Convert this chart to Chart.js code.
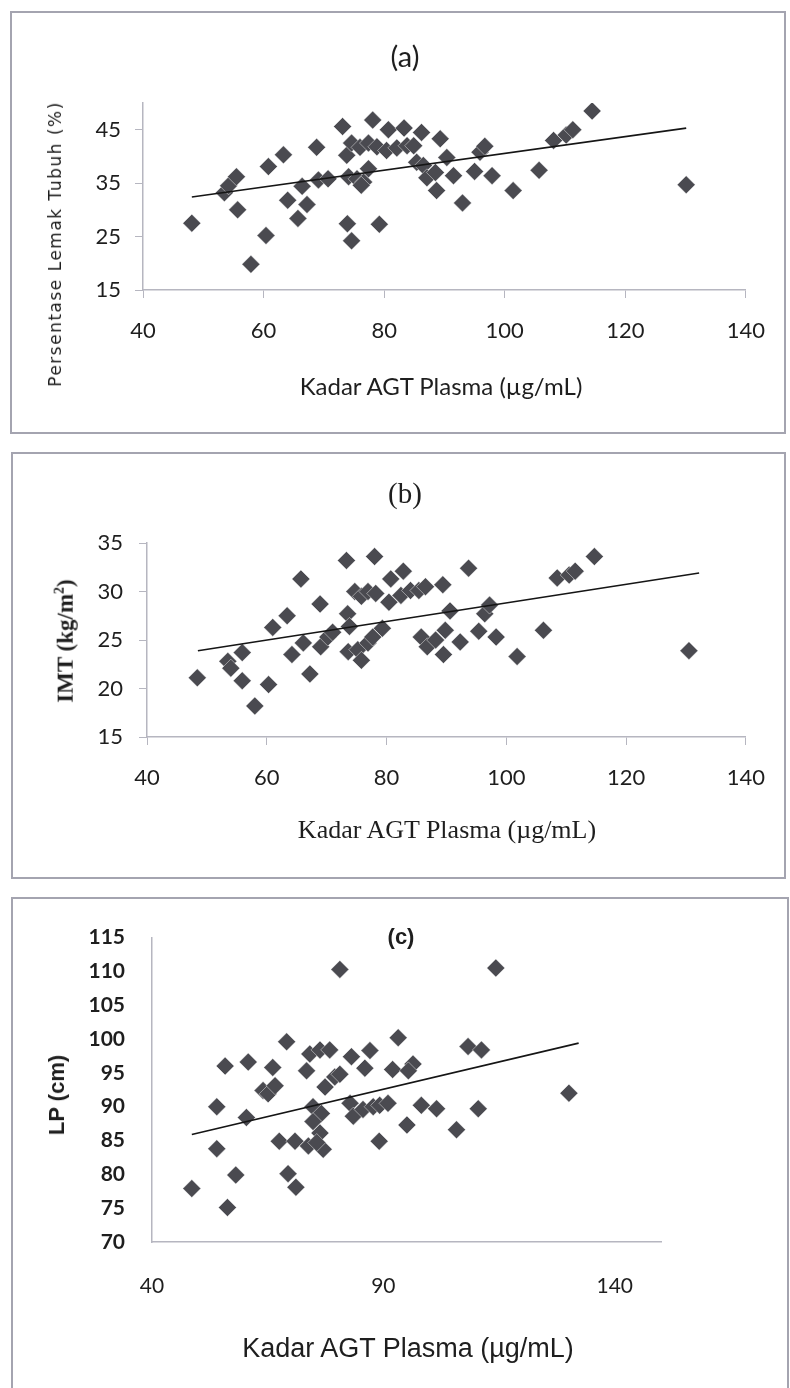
<!DOCTYPE html>
<html>
<head>
<meta charset="utf-8">
<script src="https://cdn.jsdelivr.net/npm/chart.js@4.4.0/dist/chart.umd.min.js"></script>
<style>
  body { margin: 0; width: 790px; height: 1388px; background: #fff; position: relative; overflow: hidden; }
  .box { position: absolute; border: 2px solid #a4a4b0; box-sizing: border-box; }
  canvas { position: absolute; }
  .lbl { position: absolute; white-space: nowrap; transform: translate(-50%, -50%); color: #1e1e1e; }
  .rot { transform: translate(-50%, -50%) rotate(-90deg); }
</style>
</head>
<body>

<div class="box" style="left:10px;top:11px;width:776px;height:423px"></div>
<div class="box" style="left:11px;top:452px;width:775px;height:427px"></div>
<div class="box" style="left:11px;top:897px;width:778px;height:530px"></div>

<canvas id="chartA" style="left:11px;top:12px"></canvas>
<canvas id="chartB" style="left:12px;top:453px"></canvas>
<canvas id="chartC" style="left:12px;top:898px"></canvas>

<div class="lbl" style="left:405px;top:55px;font:29px Lato">(a)</div>
<div class="lbl rot" style="left:55px;top:244px;font:17px 'DejaVu Sans';letter-spacing:1.5px">Persentase Lemak Tubuh (%)</div>
<div class="lbl" style="left:441px;top:385px;font:24px Lato">Kadar AGT Plasma (µg/mL)</div>

<div class="lbl" style="left:405px;top:493px;font:29px 'Liberation Serif'">(b)</div>
<div class="lbl rot" style="left:65px;top:641px;font:bold 23px 'Liberation Serif'">IMT (kg/m<sup style="font-size:14px">2</sup>)</div>
<div class="lbl" style="left:447px;top:830px;font:26px 'Liberation Serif'">Kadar AGT Plasma (µg/mL)</div>

<div class="lbl" style="left:401px;top:937px;font:bold 22px 'Liberation Sans'">(c)</div>
<div class="lbl rot" style="left:57px;top:1095px;font:bold 22px 'Liberation Sans'">LP (cm)</div>
<div class="lbl" style="left:408px;top:1348px;font:27px 'Liberation Sans'">Kadar AGT Plasma (µg/mL)</div>

<script>
// (a) Persentase lemak tubuh vs kadar AGT
const aX = [48.1, 53.5, 54.2, 55.5, 55.7, 57.9, 60.4, 60.8, 63.3, 64.0, 65.7, 66.4, 67.2, 68.8, 69.1, 70.7,
            73.1, 73.8, 73.9, 74.6, 74.6, 76.0, 77.4, 78.8, 74.1, 75.5, 76.6, 77.4, 76.2, 78.1, 79.2, 80.7,
            80.4, 82.1, 83.3, 83.8, 84.9, 86.2, 85.4, 86.5, 87.1, 88.5, 88.7, 89.3, 90.4, 91.5, 93.0, 95.0,
            95.9, 96.7, 97.9, 101.4, 105.7, 108.1, 110.2, 111.3, 114.5, 130.1];
const aY = [27.5, 33.2, 34.5, 36.2, 30.0, 19.8, 25.2, 38.1, 40.3, 31.8, 28.4, 34.4, 31.0, 41.7, 35.6, 35.8,
            45.6, 40.2, 27.4, 24.2, 42.5, 41.7, 42.5, 41.8, 36.2, 35.8, 35.2, 37.7, 34.6, 46.8, 27.3, 45.0,
            41.1, 41.6, 45.3, 42.0, 42.0, 44.5, 38.9, 38.3, 36.0, 37.0, 33.6, 43.3, 39.8, 36.4, 31.3, 37.2,
            40.8, 41.9, 36.4, 33.6, 37.4, 43.0, 44.0, 45.0, 48.5, 34.7];
const aTrendX = [48.1, 130.1];
const aTrendY = [32.4, 45.3];
const aTicksX = [40, 60, 80, 100, 120, 140];
const aTicksY = [15, 25, 35, 45];

// (b) IMT vs kadar AGT
const bX = [48.4, 53.5, 54.0, 55.9, 55.9, 58.0, 60.3, 61.0, 63.4, 64.2, 65.7, 66.1, 67.2, 68.9, 69.0, 70.2,
            71.0, 73.3, 73.5, 73.8, 73.6, 75.2, 75.8, 76.9, 77.7, 74.7, 75.8, 76.9, 78.2, 78.0, 79.3, 80.7,
            80.4, 82.8, 82.4, 84.0, 85.4, 86.5, 85.8, 86.8, 88.2, 89.5, 89.8, 89.4, 90.6, 92.3, 93.7, 95.4,
            96.4, 97.2, 98.3, 101.8, 106.2, 108.5, 110.5, 111.5, 114.7, 130.5];
const bY = [21.1, 22.8, 22.1, 23.7, 20.8, 18.2, 20.4, 26.3, 27.5, 23.5, 31.3, 24.7, 21.5, 28.7, 24.3, 25.3,
            25.8, 33.2, 27.7, 26.4, 23.8, 24.0, 22.9, 24.7, 25.3, 30.0, 29.5, 30.0, 29.8, 33.6, 26.2, 31.3,
            28.9, 32.1, 29.6, 30.1, 30.1, 30.5, 25.3, 24.3, 25.0, 23.5, 26.0, 30.7, 28.0, 24.8, 32.4, 25.9,
            27.7, 28.6, 25.3, 23.3, 26.0, 31.4, 31.7, 32.1, 33.6, 23.9];
const bTrendX = [48.5, 132.2];
const bTrendY = [23.9, 31.9];
const bTicksX = [40, 60, 80, 100, 120, 140];
const bTicksY = [15, 20, 25, 30, 35];

// (c) LP vs kadar AGT
const cX = [48.6, 54.0, 55.8, 54.0, 56.3, 58.1, 60.8, 60.4, 66.1, 64.0, 65.1, 66.6, 67.5, 69.1, 69.4, 71.1,
            70.9, 73.4, 74.1, 76.3, 78.4, 77.4, 79.5, 80.6, 74.8, 76.6, 74.8, 76.3, 73.8, 77.0, 75.6, 80.6,
            83.1, 82.8, 83.5, 85.6, 87.8, 89.2, 91.0, 87.1, 86.0, 89.1, 92.0, 93.2, 96.4, 95.4, 98.2, 101.5,
            95.1, 105.8, 108.3, 111.2, 110.5, 114.3, 130.1];
const cY = [77.9, 90.0, 96.0, 83.8, 75.1, 79.9, 96.6, 88.4, 95.8, 92.4, 91.9, 93.1, 84.9, 99.6, 80.1, 78.1,
            84.9, 95.3, 97.8, 98.4, 98.4, 92.9, 94.4, 94.8, 90.0, 89.0, 87.8, 86.1, 84.2, 83.7, 84.7, 110.3,
            97.4, 90.5, 88.6, 89.6, 90.0, 90.2, 90.5, 98.3, 95.7, 84.9, 95.5, 100.2, 96.3, 95.3, 90.2, 89.7,
            87.3, 86.6, 98.9, 98.4, 89.7, 110.5, 92.0];
const cTrendX = [48.6, 132.2];
const cTrendY = [85.9, 99.4];
const cTicksX = [40, 90, 140];
const cTicksY = [70, 75, 80, 85, 90, 95, 100, 105, 110, 115];

const axisColor = '#b6b6c0';
const markerColor = '#4a4a50';
const textColor = '#1e1e1e';

function pairs(xs, ys) {
    return xs.map((x, i) => ({ x: x, y: ys[i] }));
}

function makeChart(id, cfg) {
    const canvas = document.getElementById(id);
    canvas.width = cfg.w;
    canvas.height = cfg.h;
    const xH = 90;
    return new Chart(canvas, {
        type: 'scatter',
        data: {
            datasets: [{
                data: pairs(cfg.trendX, cfg.trendY),
                showLine: true,
                borderColor: '#151515',
                borderWidth: 1.6,
                pointRadius: 0,
                order: 0
            }, {
                data: pairs(cfg.xs, cfg.ys),
                pointStyle: 'rectRot',
                pointRadius: 9,
                backgroundColor: markerColor,
                borderColor: 'rgba(255,255,255,0.55)',
                borderWidth: 0.8,
                order: 1
            }]
        },
        options: {
            responsive: false,
            animation: false,
            events: [],
            layout: {
                padding: { left: 0, top: cfg.area.top, right: cfg.w - cfg.area.right, bottom: cfg.h - cfg.area.bottom - xH }
            },
            plugins: { legend: { display: false }, tooltip: { enabled: false } },
            scales: {
                x: {
                    type: 'linear',
                    min: cfg.ticksX[0],
                    max: cfg.xMax,
                    afterBuildTicks: s => { s.ticks = cfg.ticksX.map(v => ({ value: v })); },
                    afterFit: s => { s.height = xH; },
                    grid: { drawOnChartArea: false, drawTicks: cfg.tickMarks, tickLength: 8, color: axisColor },
                    border: { display: true, color: axisColor, width: 1.5 },
                    ticks: { padding: cfg.xPad, color: textColor, font: cfg.xFont, maxRotation: 0 }
                },
                y: {
                    type: 'linear',
                    min: cfg.ticksY[0],
                    max: cfg.yMax,
                    afterBuildTicks: s => { s.ticks = cfg.ticksY.map(v => ({ value: v })); },
                    afterFit: s => { s.width = cfg.area.left; },
                    grid: { drawOnChartArea: false, drawTicks: cfg.tickMarks, tickLength: 8, color: axisColor },
                    border: { display: true, color: axisColor, width: 1.5 },
                    ticks: { padding: cfg.yPad, color: textColor, font: cfg.yFont }
                }
            }
        }
    });
}

makeChart('chartA', {
    w: 774, h: 421, area: { left: 132, top: 91, right: 735, bottom: 278 },
    xs: aX, ys: aY, trendX: aTrendX, trendY: aTrendY,
    ticksX: aTicksX, ticksY: aTicksY, xMax: 140, yMax: 50,
    tickMarks: true, xPad: 20, yPad: 14,
    xFont: { family: 'Lato', size: 22 }, yFont: { family: 'Lato', size: 22 }
});

makeChart('chartB', {
    w: 773, h: 425, area: { left: 135, top: 90, right: 740, bottom: 284 },
    xs: bX, ys: bY, trendX: bTrendX, trendY: bTrendY,
    ticksX: bTicksX, ticksY: bTicksY, xMax: 140, yMax: 35,
    tickMarks: true, xPad: 20, yPad: 16,
    xFont: { family: 'Lato', size: 22 }, yFont: { family: 'Lato', size: 22 }
});

makeChart('chartC', {
    w: 776, h: 490, area: { left: 140, top: 32, right: 649, bottom: 344 },
    xs: cX, ys: cY, trendX: cTrendX, trendY: cTrendY,
    ticksX: cTicksX, ticksY: cTicksY, xMax: 150, yMax: 115,
    tickMarks: false, xPad: 32, yPad: 27,
    xFont: { family: 'Lato', size: 21 }, yFont: { family: 'Lato', size: 21, weight: 'bold' }
});
</script>
</body>
</html>
